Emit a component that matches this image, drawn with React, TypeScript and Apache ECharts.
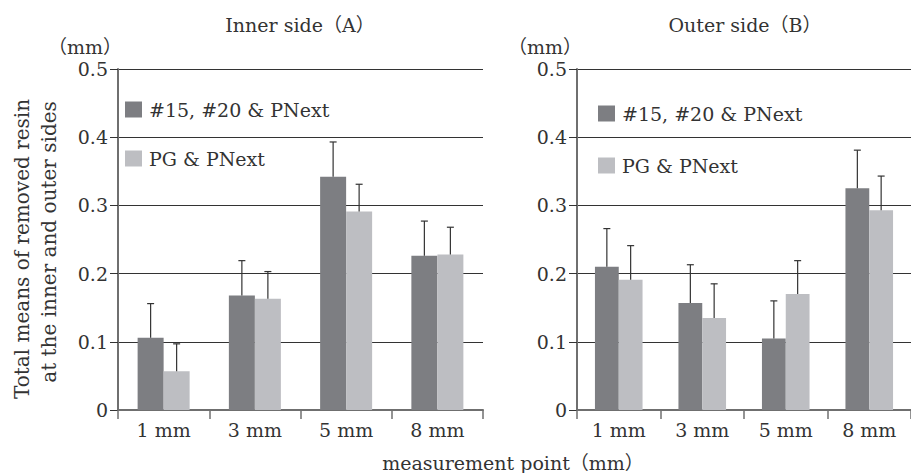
import React, { useEffect, useRef } from "react";
import * as echarts from "echarts";

const categories = ["1 mm", "3 mm", "5 mm", "8 mm"];
const seriesNames = ["#15, #20 & PNext", "PG & PNext"];
const innerDark = [0.106, 0.168, 0.342, 0.226];
const innerDarkSd = [0.05, 0.051, 0.051, 0.051];
const innerLight = [0.057, 0.163, 0.291, 0.228];
const innerLightSd = [0.04, 0.04, 0.04, 0.04];
const outerDark = [0.21, 0.157, 0.105, 0.325];
const outerDarkSd = [0.056, 0.056, 0.055, 0.056];
const outerLight = [0.191, 0.135, 0.17, 0.293];
const outerLightSd = [0.05, 0.05, 0.049, 0.05];
const yTicks = [0, 0.1, 0.2, 0.3, 0.4, 0.5];

const DARK = "#7d7e82";
const LIGHT = "#bdbec2";
const FONT = "DejaVu Serif";
const FONT_STACK = `"DejaVu Serif", "Noto Sans CJK JP"`;
const TEXT = "#333";
const CAT_GAP = 0.43;
const FS = 19;

function errorSeries(name: string, gridIdx: number, means: number[], sds: number[], side: number) {
  return {
    type: "custom",
    name: name + "-err",
    xAxisIndex: gridIdx,
    yAxisIndex: gridIdx,
    z: 5,
    silent: true,
    data: means.map((m, i) => [i, m, m + sds[i]]),
    renderItem: (params: any, api: any) => {
      const idx = api.value(0);
      const lo = api.coord([idx, api.value(1)]);
      const hi = api.coord([idx, api.value(2)]);
      const catW = api.size([1, 0])[0];
      const barW = (catW * (1 - CAT_GAP)) / 2;
      const x = lo[0] + side * barW / 2;
      const style = { stroke: "#333", lineWidth: 1.2 };
      return {
        type: "group",
        children: [
          { type: "line", shape: { x1: x, y1: lo[1], x2: x, y2: hi[1] }, style },
          { type: "line", shape: { x1: x - 3.5, y1: hi[1], x2: x + 3.5, y2: hi[1] }, style },
        ],
      };
    },
  };
}

export default function App() {
  const ref = useRef<HTMLDivElement>(null);
  useEffect(() => {
    document.body.style.margin = "0";
    const chart = echarts.init(ref.current!, undefined, { renderer: "svg" });
    const grids = [
      { left: 118, top: 69, width: 365, height: 341 },
      { left: 577, top: 69, width: 339, height: 341 },
    ];
    const xAxis = grids.map((_, i) => ({
      type: "category",
      gridIndex: i,
      data: categories,
      axisLine: { lineStyle: { color: "#6f6f6f", width: 2 } },
      axisTick: { show: true, length: 9, lineStyle: { color: "#6f6f6f", width: 1.5 } },
      axisLabel: { color: TEXT, fontFamily: FONT, fontSize: FS, margin: 10 },
    }));
    const yAxis = grids.map((_, i) => ({
      type: "value",
      gridIndex: i,
      min: 0,
      max: 0.5,
      interval: 0.1,
      axisLine: { show: true, lineStyle: { color: "#6f6f6f", width: 2 } },
      axisTick: { show: true, length: 8, lineStyle: { color: "#333", width: 1 } },
      splitLine: { show: true, lineStyle: { color: "#333", width: 1 } },
      axisLabel: {
        color: TEXT,
        fontFamily: FONT,
        fontSize: FS,
        margin: 10,
        formatter: (v: number) => {
          const t = yTicks.find((k) => Math.abs(k - v) < 1e-9);
          return t === undefined ? "" : t === 0 ? "0" : t.toFixed(1);
        },
      },
    }));
    const barCommon = { type: "bar", barGap: "0%", barCategoryGap: "43%" };
    const legendCommon = {
      orient: "vertical",
      padding: 0,
      itemWidth: 17,
      itemHeight: 16,
      icon: "rect",
      data: seriesNames,
      textStyle: { color: TEXT, fontFamily: FONT, fontSize: FS, padding: [0, 0, 0, 2] },
      selectedMode: false,
    };
    const option: any = {
      animation: false,
      backgroundColor: "#fff",
      grid: grids,
      xAxis,
      yAxis,
      legend: [
        { ...legendCommon, left: 125, top: 100, itemGap: 30 },
        { ...legendCommon, left: 598, top: 104, itemGap: 33 },
      ],
      series: [
        { ...barCommon, name: seriesNames[0], xAxisIndex: 0, yAxisIndex: 0, data: innerDark, itemStyle: { color: DARK } },
        { ...barCommon, name: seriesNames[1], xAxisIndex: 0, yAxisIndex: 0, data: innerLight, itemStyle: { color: LIGHT } },
        { ...barCommon, name: seriesNames[0], xAxisIndex: 1, yAxisIndex: 1, data: outerDark, itemStyle: { color: DARK } },
        { ...barCommon, name: seriesNames[1], xAxisIndex: 1, yAxisIndex: 1, data: outerLight, itemStyle: { color: LIGHT } },
        errorSeries("innerDark", 0, innerDark, innerDarkSd, -1),
        errorSeries("innerLight", 0, innerLight, innerLightSd, 1),
        errorSeries("outerDark", 1, outerDark, outerDarkSd, -1),
        errorSeries("outerLight", 1, outerLight, outerLightSd, 1),
      ],
      graphic: [
        { type: "text", x: 300, y: 25, style: { text: "Inner side（A）", fill: TEXT, font: `${FS}px ${FONT_STACK}`, align: "center", verticalAlign: "middle" } },
        { type: "text", x: 745, y: 25, style: { text: "Outer side（B）", fill: TEXT, font: `${FS}px ${FONT_STACK}`, align: "center", verticalAlign: "middle" } },
        { type: "text", x: 85, y: 47, style: { text: "（mm）", fill: TEXT, font: `${FS}px ${FONT_STACK}`, align: "center", verticalAlign: "middle" } },
        { type: "text", x: 545, y: 47, style: { text: "（mm）", fill: TEXT, font: `${FS}px ${FONT_STACK}`, align: "center", verticalAlign: "middle" } },
        { type: "text", x: 22, y: 249, rotation: Math.PI / 2, style: { text: "Total means of removed resin", fill: TEXT, font: `20px ${FONT_STACK}`, align: "center", verticalAlign: "middle" } },
        { type: "text", x: 49, y: 242, rotation: Math.PI / 2, style: { text: "at the inner and outer sides", fill: TEXT, font: `20px ${FONT_STACK}`, align: "center", verticalAlign: "middle" } },
        { type: "text", x: 513, y: 463, style: { text: "measurement point（mm）", fill: TEXT, font: `${FS}px ${FONT_STACK}`, align: "center", verticalAlign: "middle" } },
      ],
    };
    chart.setOption(option);
    return () => chart.dispose();
  }, []);
  return <div ref={ref} style={{ width: 911, height: 473 }} />;
}
